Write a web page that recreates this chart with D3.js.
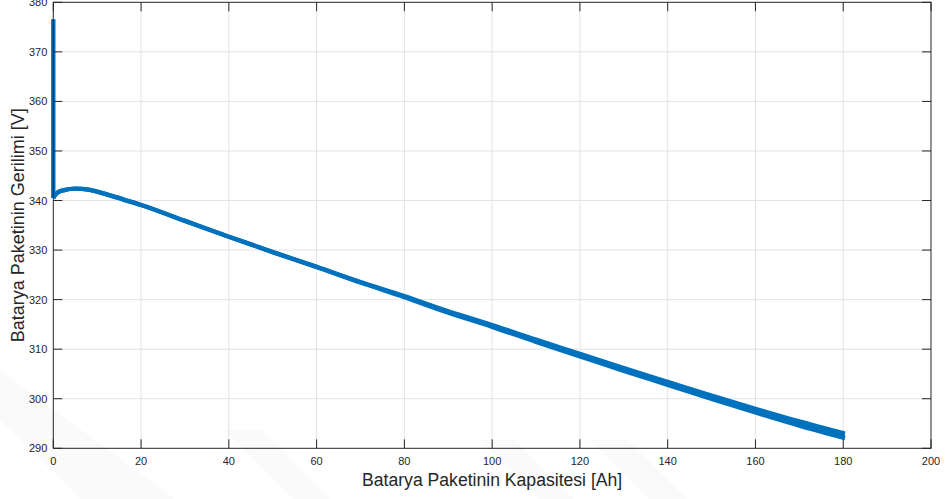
<!DOCTYPE html>
<html>
<head>
<meta charset="utf-8">
<script src="https://cdn.jsdelivr.net/npm/d3@7"></script>
<style>
  html, body { margin: 0; padding: 0; background: #ffffff; }
  svg { display: block; }
  text { font-family: "Liberation Sans", Arial, Helvetica, sans-serif; }
</style>
</head>
<body>
<svg id="chart" width="947" height="499"></svg>
<script>
// Battery pack voltage versus discharged capacity
const xTicks = [0, 20, 40, 60, 80, 100, 120, 140, 160, 180, 200];
const yTicks = [290, 300, 310, 320, 330, 340, 350, 360, 370, 380];

// Initial relaxation drop at zero capacity
const dropCapacity = [0, 0];
const dropVoltage = [376.6, 340.5];

// Discharge curve, upper and lower envelope of the ripple
const capacity = [0, 0.3, 1, 2.5, 5, 8, 12, 16, 20, 30, 40, 50, 60, 70, 80, 90, 100, 110, 120, 130, 140, 150, 160, 170, 180.4];
const voltageHigh = [340.5, 341.0, 341.6, 342.1, 342.4, 342.2, 341.3, 340.2, 339.1, 335.9, 332.7, 329.6, 326.6, 323.55, 320.7, 317.64, 314.88, 311.92, 309.05, 306.17, 303.39, 300.63, 297.98, 295.42, 292.95];
const voltageLow  = [340.5, 341.0, 341.6, 342.1, 342.4, 342.2, 341.3, 340.2, 339.1, 335.9, 332.7, 329.6, 326.6, 323.45, 320.5, 317.36, 314.52, 311.48, 308.55, 305.63, 302.81, 299.97, 297.22, 294.58, 292.05];

const xLabel = "Batarya Paketinin Kapasitesi [Ah]";
const yLabel = "Batarya Paketinin Gerilimi [V]";

const W = 947, H = 499;
const margin = { left: 53.3, right: 16, top: 2.3, bottom: 50.7 };
const svg = d3.select("#chart");

const x = d3.scaleLinear().domain([0, 200]).range([margin.left, W - margin.right]);
const y = d3.scaleLinear().domain([290, 380]).range([H - margin.bottom, margin.top]);

const axisColor = "#262626";
const gridColor = "#e3e3e3";
const lineColor = "#0072bd";
const tickLen = 9;

// grid
const grid = svg.append("g");
grid.selectAll("line.gx").data(xTicks.slice(1, -1)).join("line")
  .attr("x1", d => x(d)).attr("x2", d => x(d))
  .attr("y1", y(290)).attr("y2", y(380))
  .attr("stroke", gridColor).attr("stroke-width", 1);
grid.selectAll("line.gy").data(yTicks.slice(1, -1)).join("line")
  .attr("x1", x(0)).attr("x2", x(200))
  .attr("y1", d => y(d)).attr("y2", d => y(d))
  .attr("stroke", gridColor).attr("stroke-width", 1);

// data
const plot = svg.append("g");
const strokeW = 4.4;
plot.append("path")
  .datum(dropCapacity.map((c, i) => [c, dropVoltage[i]]))
  .attr("d", d3.line().x(d => x(d[0])).y(d => y(d[1])))
  .attr("fill", "none").attr("stroke", lineColor).attr("stroke-width", strokeW)
  .attr("stroke-linecap", "butt");

const rows = capacity.map((c, i) => ({ c, hi: voltageHigh[i], lo: voltageLow[i] }));
plot.append("path")
  .datum(rows)
  .attr("d", d3.area().curve(d3.curveMonotoneX).x(d => x(d.c)).y0(d => y(d.lo)).y1(d => y(d.hi)))
  .attr("fill", lineColor);
["hi", "lo"].forEach(k => {
  plot.append("path")
    .datum(rows)
    .attr("d", d3.line().curve(d3.curveMonotoneX).x(d => x(d.c)).y(d => y(d[k])))
    .attr("fill", "none").attr("stroke", lineColor).attr("stroke-width", strokeW)
    .attr("stroke-linejoin", "round").attr("stroke-linecap", "butt");
});

// axes box with inward ticks on all four sides
const ax = svg.append("g").attr("stroke", axisColor).attr("stroke-width", 1).attr("fill", "none");
ax.append("rect")
  .attr("x", x(0)).attr("y", y(380))
  .attr("width", x(200) - x(0)).attr("height", y(290) - y(380));
xTicks.forEach(t => {
  ax.append("line").attr("x1", x(t)).attr("x2", x(t)).attr("y1", y(290)).attr("y2", y(290) - tickLen);
  ax.append("line").attr("x1", x(t)).attr("x2", x(t)).attr("y1", y(380)).attr("y2", y(380) + tickLen);
});
yTicks.forEach(t => {
  ax.append("line").attr("x1", x(0)).attr("x2", x(0) + tickLen).attr("y1", y(t)).attr("y2", y(t));
  ax.append("line").attr("x1", x(200)).attr("x2", x(200) - tickLen).attr("y1", y(t)).attr("y2", y(t));
});

// tick labels
svg.append("g").selectAll("text").data(xTicks).join("text")
  .attr("x", d => x(d)).attr("y", y(290) + 16.5)
  .attr("text-anchor", "middle")
  .attr("font-size", 11).attr("fill", axisColor)
  .text(d => d);
svg.append("g").selectAll("text").data(yTicks).join("text")
  .attr("x", x(0) - 6).attr("y", d => y(d) + 4)
  .attr("text-anchor", "end")
  .attr("font-size", 11).attr("fill", axisColor)
  .text(d => d);

// axis titles
svg.append("text")
  .attr("x", (x(0) + x(200)) / 2).attr("y", 486)
  .attr("text-anchor", "middle").attr("font-size", 17.6).attr("fill", axisColor)
  .text(xLabel);
svg.append("text")
  .attr("transform", `translate(24,${(y(290) + y(380)) / 2}) rotate(-90)`)
  .attr("text-anchor", "middle").attr("font-size", 18).attr("fill", axisColor)
  .text(yLabel);

// faint background watermark stripes
const wm = svg.append("g").attr("fill", "#000").attr("fill-opacity", 0.02);
const stripes = [
  [[0, 370], [0, 420], [80, 499], [175, 499]],
  [[225, 430], [262, 430], [330, 499], [293, 499]],
  [[480, 440], [515, 440], [574, 499], [539, 499]],
  [[590, 440], [628, 440], [687, 499], [649, 499]]
];
stripes.forEach(p => wm.append("polygon").attr("points", p.map(q => q.join(",")).join(" ")));
</script>
</body>
</html>
